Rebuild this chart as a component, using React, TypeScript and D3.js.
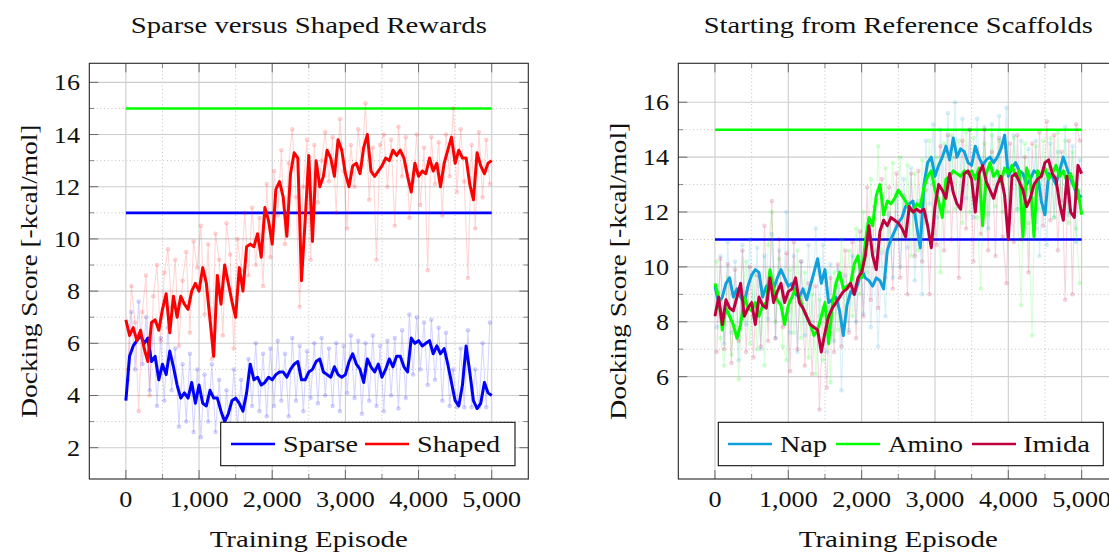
import React from 'react';
import * as d3 from 'd3';

// ---------------- data ----------------
const episodes = d3.range(0, 5001, 50);
const rawEpisodes = d3.range(25, 5000, 50);

const xTicks = [0, 1000, 2000, 3000, 4000, 5000];
const xMinorTicks = [500, 1500, 2500, 3500, 4500];
const leftYTicks = [2, 4, 6, 8, 10, 12, 14, 16];
const leftYMinor = [3, 5, 7, 9, 11, 13, 15];
const rightYTicks = [6, 8, 10, 12, 14, 16];
const rightYMinor = [7, 9, 11, 13, 15];

const referenceHigh = 15;
const referenceLow = 11;

const sparse = [
  3.8, 5.5, 5.9, 6.1, 6.3, 6.0, 6.2, 5.3, 5.5, 4.6,
  5.2, 4.8, 5.7, 5.1, 4.4, 3.9, 4.1, 3.9, 4.5, 3.7,
  4.4, 3.7, 3.6, 4.2, 3.9, 3.9, 3.4, 3.0, 3.3, 3.8,
  3.9, 3.7, 3.4, 4.1, 5.2, 4.6, 4.7, 4.4, 4.5, 4.7,
  4.6, 4.8, 4.9, 4.9, 4.7, 5.0, 5.2, 5.3, 4.6, 4.6,
  4.9, 5.0, 5.3, 5.4, 4.9, 4.8, 4.7, 5.1, 4.8, 4.7,
  4.8, 5.3, 5.6, 5.2, 5.0, 4.5, 5.4, 5.1, 4.9, 5.2,
  4.7, 5.0, 5.4, 5.1, 5.5, 5.5, 5.1, 4.9, 6.2, 6.0,
  6.1, 5.9, 6.0, 6.1, 5.6, 5.9, 5.6, 5.8, 5.2, 4.5,
  3.8, 3.6, 4.4, 5.9, 4.9, 3.8, 3.5, 3.7, 4.5, 4.1,
  4.0,
];
const shaped = [
  6.9, 6.3, 6.6, 6.1, 6.5, 5.8, 5.3, 6.8, 6.9, 6.5,
  7.3, 7.9, 6.4, 7.8, 7.0, 7.8, 7.5, 7.3, 8.0, 8.3,
  8.0, 8.9, 8.3, 6.9, 5.5, 8.6, 7.5, 9.0, 8.3, 7.6,
  7.0, 8.9, 8.0, 9.7, 9.8, 9.7, 10.2, 9.3, 11.2, 10.7,
  9.8, 11.9, 12.2, 11.6, 10.1, 12.5, 13.3, 13.1, 8.4, 10.7,
  13.2, 9.9, 13.0, 12.0, 12.4, 13.4, 13.1, 12.4, 13.8, 13.4,
  12.5, 12.0, 12.8, 12.9, 12.5, 13.5, 14.0, 12.6, 12.4, 12.6,
  12.8, 13.1, 13.0, 13.4, 13.2, 13.4, 13.1, 12.4, 11.8, 12.9,
  12.4, 12.6, 12.5, 13.1, 12.6, 12.9, 12.0, 12.9, 13.4, 13.9,
  12.9, 13.4, 13.1, 13.1, 12.1, 11.5, 13.3, 12.8, 12.5, 12.9,
  13.0,
];
const sparseRaw = [
  4.6, 7.2, 5.0, 7.6, 5.2, 7.0, 4.2, 6.8, 3.6, 6.2,
  3.8, 6.6, 4.2, 5.8, 2.8, 5.2, 3.0, 5.6, 2.6, 5.0,
  2.4, 4.8, 3.0, 5.2, 2.6, 4.6, 2.2, 4.2, 2.6, 5.0,
  2.8, 4.6, 2.5, 5.4, 3.6, 6.0, 3.4, 5.6, 3.2, 5.8,
  3.6, 6.1, 3.8, 5.6, 3.2, 6.2, 3.8, 5.9, 3.4, 5.7,
  3.9, 6.0, 3.7, 6.2, 4.0, 5.8, 3.6, 6.0, 3.4, 5.9,
  4.1, 6.3, 3.9, 6.1, 3.3, 6.0, 3.8, 6.3, 3.6, 5.9,
  3.4, 6.1, 4.0, 6.2, 3.5, 6.5, 3.9, 7.1, 4.8, 7.0,
  5.0, 6.8, 4.4, 6.9, 4.6, 6.6, 3.8, 6.4, 3.6, 5.0,
  3.55, 5.8, 3.55, 6.5, 3.55, 5.0, 3.55, 6.0, 3.55, 6.8,
];
const shapedRaw = [
  5.0, 8.2, 6.8, 3.4, 7.2, 8.6, 4.0, 7.8, 9.0, 6.1,
  8.7, 9.6, 7.4, 9.2, 5.9, 8.4, 9.5, 6.4, 9.9, 8.9,
  10.5, 7.1, 9.8, 5.4, 10.2, 9.2, 6.3, 10.6, 9.4, 5.8,
  10.0, 8.8, 11.0, 8.6, 11.2, 9.0, 10.8, 8.2, 12.1, 9.3,
  12.6, 10.9, 13.4, 9.8, 12.9, 14.2, 11.6, 7.4, 12.0, 13.8,
  9.2, 13.6, 11.4, 13.0, 14.1, 12.2, 13.9, 11.0, 14.6, 12.6,
  10.4, 13.6, 12.0, 14.2, 12.8, 15.2, 11.5, 13.5, 9.2, 13.6,
  14.0, 12.0, 13.8, 10.5, 14.3, 12.4, 13.9, 10.8, 12.2, 14.0,
  11.3, 13.5, 8.8, 13.9, 12.1, 13.7, 10.9, 14.0, 12.4, 15.0,
  11.8, 14.2, 12.2, 8.5, 13.6, 10.4, 14.1, 11.6, 13.8, 12.1,
];

const nap = [
  9.3, 8.7, 8.9, 9.4, 9.6, 8.9, 9.2, 8.9, 8.7, 9.3,
  9.7, 9.9, 9.8, 8.9, 9.3, 9.4, 9.2, 9.6, 9.9, 9.6,
  9.3, 9.4, 9.0, 8.9, 9.2, 8.8, 9.3, 9.8, 10.3, 9.4,
  9.9, 8.7, 8.8, 8.9, 8.4, 7.5, 8.6, 9.1, 9.0, 9.4,
  9.9, 9.6, 9.5, 9.3, 9.6, 9.5, 9.2, 10.6, 11.0, 11.3,
  11.6, 11.8, 12.2, 12.3, 12.4, 11.5, 10.7, 13.0, 13.8, 14.0,
  13.3, 13.7, 14.0, 14.4, 13.9, 14.7, 14.0, 14.3, 14.2, 13.8,
  13.7, 14.4, 14.0, 13.7, 13.9, 14.0, 13.8, 14.0, 14.3, 14.8,
  13.3, 13.6, 13.8, 13.5, 13.4, 13.0, 13.2, 13.5, 13.4, 12.4,
  11.9, 13.4, 13.3, 13.0, 13.5, 14.0, 13.6, 13.2, 12.9, 12.5,
  12.6,
];
const amino = [
  9.4, 8.9, 7.7, 8.5, 8.2, 7.9, 7.4, 7.9, 8.9, 8.5,
  8.4, 8.7, 8.2, 8.6, 8.7, 9.9, 9.2, 8.8, 8.6, 7.9,
  8.6, 8.9, 9.2, 8.9, 8.5, 8.2, 7.9, 7.5, 7.7, 8.2,
  8.7, 7.2, 8.6, 9.4, 9.8, 9.2, 9.3, 9.4, 10.1, 10.4,
  9.6, 10.9, 11.8, 11.5, 12.6, 13.0, 11.9, 12.4, 12.3, 12.5,
  12.8, 12.6, 12.4, 12.1, 12.0, 12.3, 12.2, 12.9, 13.3, 13.5,
  12.8, 12.4, 11.8, 13.2, 13.3, 13.5, 13.4, 13.3, 13.5, 13.4,
  13.5, 13.2, 13.6, 11.5, 13.4, 13.8, 13.3, 13.5, 13.1, 13.6,
  13.4, 13.7, 13.3, 13.5, 11.1, 13.6, 13.2, 11.1, 13.5, 13.3,
  13.6, 13.2, 13.4, 13.7, 13.3, 13.5, 13.1, 13.4, 12.9, 12.8,
  11.9,
];
const imida = [
  8.2, 8.9, 7.9, 8.8, 8.5, 8.4, 8.9, 9.4, 8.2, 8.5,
  8.7, 7.9, 8.9, 8.6, 8.5, 9.6, 8.7, 9.1, 9.4, 8.7,
  9.1, 9.2, 9.6, 8.7, 8.5, 8.2, 7.9, 7.8, 7.7, 6.9,
  7.6, 8.2, 8.5, 8.7, 8.9, 9.1, 9.2, 9.4, 9.0, 9.6,
  9.8, 10.4, 11.5, 10.4, 9.9, 11.3, 11.7, 11.5, 11.8, 11.7,
  11.6, 11.4, 11.1, 12.2, 12.0, 12.1, 12.0, 12.1, 11.5, 10.7,
  12.2, 13.0, 12.8, 12.5, 13.4, 12.7, 12.3, 12.1, 13.4, 13.5,
  13.2, 12.0, 13.4, 13.7, 13.1, 12.8, 12.5, 13.0, 13.3, 12.6,
  11.0, 13.3, 13.4, 13.1, 12.8, 12.2, 12.5, 13.0, 13.2, 13.3,
  13.8, 13.9, 13.4, 13.2, 12.3, 11.7, 13.3, 12.0, 11.8, 13.7,
  13.4,
];
const napRaw = [
  7.8, 10.4, 7.2, 10.9, 7.6, 10.2, 6.6, 10.8, 7.9, 11.0,
  8.2, 10.7, 7.0, 10.4, 8.1, 11.2, 7.4, 10.6, 8.3, 12.0,
  7.6, 10.4, 6.9, 10.2, 7.5, 10.8, 8.0, 11.4, 8.2, 10.8,
  6.9, 10.1, 7.3, 9.9, 5.5, 9.7, 7.7, 10.4, 8.0, 11.0,
  8.3, 10.8, 7.8, 10.6, 7.1, 10.5, 8.2, 11.9, 9.6, 12.6,
  10.0, 13.2, 10.7, 13.6, 9.5, 12.4, 9.0, 14.6, 12.3, 15.2,
  11.8, 15.0, 12.6, 15.6, 12.8, 16.0, 12.2, 15.4, 12.5, 15.0,
  11.8, 15.4, 12.6, 15.1, 11.4, 15.2, 12.8, 15.5, 12.9, 15.8,
  11.6, 14.8, 12.1, 14.6, 11.4, 14.3, 11.9, 14.6, 10.4, 13.2,
  10.8, 14.5, 11.8, 14.2, 12.4, 15.1, 11.9, 14.4, 10.9, 13.9,
];
const aminoRaw = [
  10.2, 7.4, 6.4, 9.6, 6.8, 8.9, 5.9, 9.1, 10.2, 7.2,
  9.7, 7.0, 9.3, 6.4, 10.8, 12.0, 8.0, 10.3, 7.1, 6.6,
  9.9, 7.6, 10.6, 7.4, 9.8, 6.7, 9.0, 6.1, 8.8, 6.6,
  9.8, 5.8, 9.8, 7.7, 11.0, 8.0, 10.6, 8.2, 11.4, 9.0,
  12.0, 9.8, 13.2, 10.0, 14.4, 10.6, 13.6, 10.9, 13.8, 11.0,
  14.0, 11.1, 13.7, 10.4, 13.4, 10.6, 13.9, 11.6, 14.6, 11.2,
  14.0, 9.8, 14.5, 12.0, 14.8, 12.1, 14.6, 11.6, 14.9, 12.0,
  14.7, 11.8, 9.2, 14.5, 11.9, 14.8, 12.2, 14.6, 12.0, 14.4,
  11.8, 14.7, 12.1, 8.6, 14.5, 11.6, 7.5, 14.4, 12.1, 14.6,
  12.0, 14.7, 11.8, 14.9, 12.2, 14.6, 11.6, 14.2, 11.4, 9.4,
];
const imidaRaw = [
  6.9, 10.3, 7.0, 10.1, 6.5, 9.9, 7.3, 10.6, 6.9, 10.0,
  6.7, 9.7, 7.1, 11.5, 7.3, 12.4, 7.4, 11.0, 7.8, 10.5,
  6.2, 10.9, 7.0, 10.2, 6.4, 9.4, 6.1, 9.3, 4.8, 8.5,
  5.6, 9.6, 6.9, 10.1, 7.1, 10.6, 7.6, 10.9, 7.4, 11.3,
  8.2, 12.9, 8.8, 12.2, 8.5, 13.2, 9.6, 12.9, 9.2, 13.4,
  9.6, 12.6, 9.0, 13.4, 10.4, 13.5, 10.2, 12.8, 9.0, 13.0,
  10.8, 14.4, 10.6, 14.8, 11.0, 14.0, 9.6, 14.6, 11.4, 15.0,
  10.2, 14.3, 11.2, 15.0, 10.6, 14.2, 10.4, 14.7, 11.1, 9.4,
  14.5, 10.9, 14.8, 11.0, 14.0, 9.8, 14.5, 11.4, 14.9, 11.5,
  15.3, 11.7, 14.8, 10.6, 14.2, 8.8, 14.6, 9.0, 15.2, 14.6,
];

const leftSeries = [
  { name: 'Sparse', color: '#0000ff', values: sparse, raw: sparseRaw },
  { name: 'Shaped', color: '#ff0000', values: shaped, raw: shapedRaw },
];
const rightSeries = [
  { name: 'Nap', color: '#10a0dc', values: nap, raw: napRaw },
  { name: 'Amino', color: '#00ff00', values: amino, raw: aminoRaw },
  { name: 'Imida', color: '#bf0040', values: imida, raw: imidaRaw },
];

const FONT = '"Liberation Serif", "Times New Roman", serif';
const FS = 24;

type Series = { name: string; color: string; values: number[]; raw: number[] };

type PanelProps = {
  id: string;
  x0: number; x1: number; yTop: number; yBot: number;
  yDomain: [number, number];
  yTicks: number[]; yMinor: number[];
  series: Series[];
  title: string; titleWidth: number;
  yLabelX: number; yLabelLen: number;
  xLabelWidth: number;
  tickLabelRight: number;
  legend: { x0: number; x1: number; items: { lx: number; tx: number; tw: number }[] };
};

function Panel(p: PanelProps) {
  const x = d3.scaleLinear([-500, 5500], [p.x0, p.x1]);
  const y = d3.scaleLinear(p.yDomain, [p.yBot, p.yTop]);
  const line = d3.line<number>().x((_, i) => x(episodes[i])).y((d) => y(d));
  const rawLine = d3.line<number>().x((_, i) => x(rawEpisodes[i])).y((d) => y(d));
  const cx = (p.x0 + p.x1) / 2;
  const cy = (p.yTop + p.yBot) / 2;
  const tickLen = 9;
  const minorLen = 5;
  const tickColor = '#6a6a6a';
  return (
    <g>
      <defs>
        <clipPath id={p.id}>
          <rect x={p.x0} y={p.yTop} width={p.x1 - p.x0} height={p.yBot - p.yTop} />
        </clipPath>
      </defs>
      {xMinorTicks.map((t) => (
        <line key={'xm' + t} x1={x(t)} x2={x(t)} y1={p.yTop} y2={p.yBot} stroke="#b4b4b4" strokeWidth={0.9} strokeDasharray="0.9 2.8" />
      ))}
      {p.yMinor.map((t) => (
        <line key={'ym' + t} x1={p.x0} x2={p.x1} y1={y(t)} y2={y(t)} stroke="#b4b4b4" strokeWidth={0.9} strokeDasharray="0.9 2.8" />
      ))}
      {xTicks.map((t) => (
        <line key={'xg' + t} x1={x(t)} x2={x(t)} y1={p.yTop} y2={p.yBot} stroke="#cdcdcd" strokeWidth={1.1} />
      ))}
      {p.yTicks.map((t) => (
        <line key={'yg' + t} x1={p.x0} x2={p.x1} y1={y(t)} y2={y(t)} stroke="#cdcdcd" strokeWidth={1.1} />
      ))}
      <g clipPath={`url(#${p.id})`}>
        <line x1={x(0)} x2={x(5000)} y1={y(referenceHigh)} y2={y(referenceHigh)} stroke="#00ff00" strokeWidth={2.6} />
        <line x1={x(0)} x2={x(5000)} y1={y(referenceLow)} y2={y(referenceLow)} stroke="#0000ff" strokeWidth={2.6} />
        {p.series.map((s) => (
          <g key={'raw' + s.name}>
            <path d={rawLine(s.raw) || ''} fill="none" stroke={s.color} strokeOpacity={0.16} strokeWidth={1.1} />
            {s.raw.map((v, i) => (
              <circle key={i} cx={x(rawEpisodes[i])} cy={y(v)} r={2} fill={s.color} fillOpacity={0.16} stroke={s.color} strokeOpacity={0.14} strokeWidth={0.6} />
            ))}
          </g>
        ))}
        {p.series.map((s) => (
          <path key={'ln' + s.name} d={line(s.values) || ''} fill="none" stroke={s.color} strokeWidth={3} strokeLinejoin="round" />
        ))}
      </g>
      {xTicks.map((t) => (
        <g key={'xt' + t}>
          <line x1={x(t)} x2={x(t)} y1={p.yBot} y2={p.yBot - tickLen} stroke={tickColor} strokeWidth={1} />
          <line x1={x(t)} x2={x(t)} y1={p.yTop} y2={p.yTop + tickLen} stroke={tickColor} strokeWidth={1} />
        </g>
      ))}
      {xMinorTicks.map((t) => (
        <g key={'xmt' + t}>
          <line x1={x(t)} x2={x(t)} y1={p.yBot} y2={p.yBot - minorLen} stroke={tickColor} strokeWidth={0.8} />
          <line x1={x(t)} x2={x(t)} y1={p.yTop} y2={p.yTop + minorLen} stroke={tickColor} strokeWidth={0.8} />
        </g>
      ))}
      {p.yTicks.map((t) => (
        <g key={'yt' + t}>
          <line x1={p.x0} x2={p.x0 + tickLen} y1={y(t)} y2={y(t)} stroke={tickColor} strokeWidth={1} />
          <line x1={p.x1} x2={p.x1 - tickLen} y1={y(t)} y2={y(t)} stroke={tickColor} strokeWidth={1} />
        </g>
      ))}
      {p.yMinor.map((t) => (
        <g key={'ymt' + t}>
          <line x1={p.x0} x2={p.x0 + minorLen} y1={y(t)} y2={y(t)} stroke={tickColor} strokeWidth={0.8} />
          <line x1={p.x1} x2={p.x1 - minorLen} y1={y(t)} y2={y(t)} stroke={tickColor} strokeWidth={0.8} />
        </g>
      ))}
      <rect x={p.x0} y={p.yTop} width={p.x1 - p.x0} height={p.yBot - p.yTop} fill="none" stroke="#262626" strokeWidth={1.1} />
      {xTicks.map((t) => (
        <text key={'xl' + t} transform={`translate(${x(t)},506.5) scale(1.09,1)`} textAnchor="middle" fontFamily={FONT} fontSize={FS} fill="#111">
          {d3.format(',')(t)}
        </text>
      ))}
      {p.yTicks.map((t) => (
        <text key={'yl' + t} transform={`translate(${p.tickLabelRight},${y(t) + 8}) scale(1.09,1)`} textAnchor="end" fontFamily={FONT} fontSize={FS} fill="#111">
          {t}
        </text>
      ))}
      <text x={cx} y={33} textAnchor="middle" fontFamily={FONT} fontSize={FS} fill="#111" textLength={p.titleWidth} lengthAdjust="spacingAndGlyphs">
        {p.title}
      </text>
      <text x={cx} y={547} textAnchor="middle" fontFamily={FONT} fontSize={FS} fill="#111" textLength={p.xLabelWidth} lengthAdjust="spacingAndGlyphs">
        Training Episode
      </text>
      <text transform={`translate(${p.yLabelX},${cy}) rotate(-90)`} textAnchor="middle" fontFamily={FONT} fontSize={FS} fill="#111" textLength={p.yLabelLen} lengthAdjust="spacingAndGlyphs">
        Docking Score [-kcal/mol]
      </text>
      <rect x={p.legend.x0} y={422.3} width={p.legend.x1 - p.legend.x0} height={43.4} fill="#fff" stroke="#111" strokeWidth={1.1} />
      {p.series.map((s, i) => {
        const it = p.legend.items[i];
        return (
          <g key={'lg' + s.name}>
            <line x1={it.lx} x2={it.lx + 44} y1={444} y2={444} stroke={s.color} strokeWidth={2.5} />
            <text x={it.tx} y={451.5} fontFamily={FONT} fontSize={FS} fill="#111" textLength={it.tw} lengthAdjust="spacingAndGlyphs">
              {s.name}
            </text>
          </g>
        );
      })}
    </g>
  );
}

export default function App() {
  return (
    <svg width={1109} height={552} style={{ position: 'absolute', left: 0, top: 0, background: '#fff' }}>
      <rect x={0} y={0} width={1109} height={552} fill="#fff" />
      <Panel
        id="clipL"
        x0={89.3} x1={528.3} yTop={63.3} yBot={479}
        yDomain={[0.8, 16.73]}
        yTicks={leftYTicks} yMinor={leftYMinor}
        series={leftSeries}
        title="Sparse versus Shaped Rewards" titleWidth={356}
        yLabelX={37} yLabelLen={293}
        xLabelWidth={198}
        tickLabelRight={80}
        legend={{ x0: 220.7, x1: 515, items: [
          { lx: 231, tx: 283, tw: 75 },
          { lx: 365, tx: 417, tw: 83 },
        ] }}
      />
      <Panel
        id="clipR"
        x0={678.3} x1={1118.3} yTop={63.3} yBot={479}
        yDomain={[2.27, 17.42]}
        yTicks={rightYTicks} yMinor={rightYMinor}
        series={rightSeries}
        title="Starting from Reference Scaffolds" titleWidth={389}
        yLabelX={626} yLabelLen={297}
        xLabelWidth={199}
        tickLabelRight={669}
        legend={{ x0: 718.3, x1: 1103.3, items: [
          { lx: 728, tx: 780, tw: 47 },
          { lx: 836, tx: 888, tw: 75 },
          { lx: 972, tx: 1023, tw: 67 },
        ] }}
      />
    </svg>
  );
}
